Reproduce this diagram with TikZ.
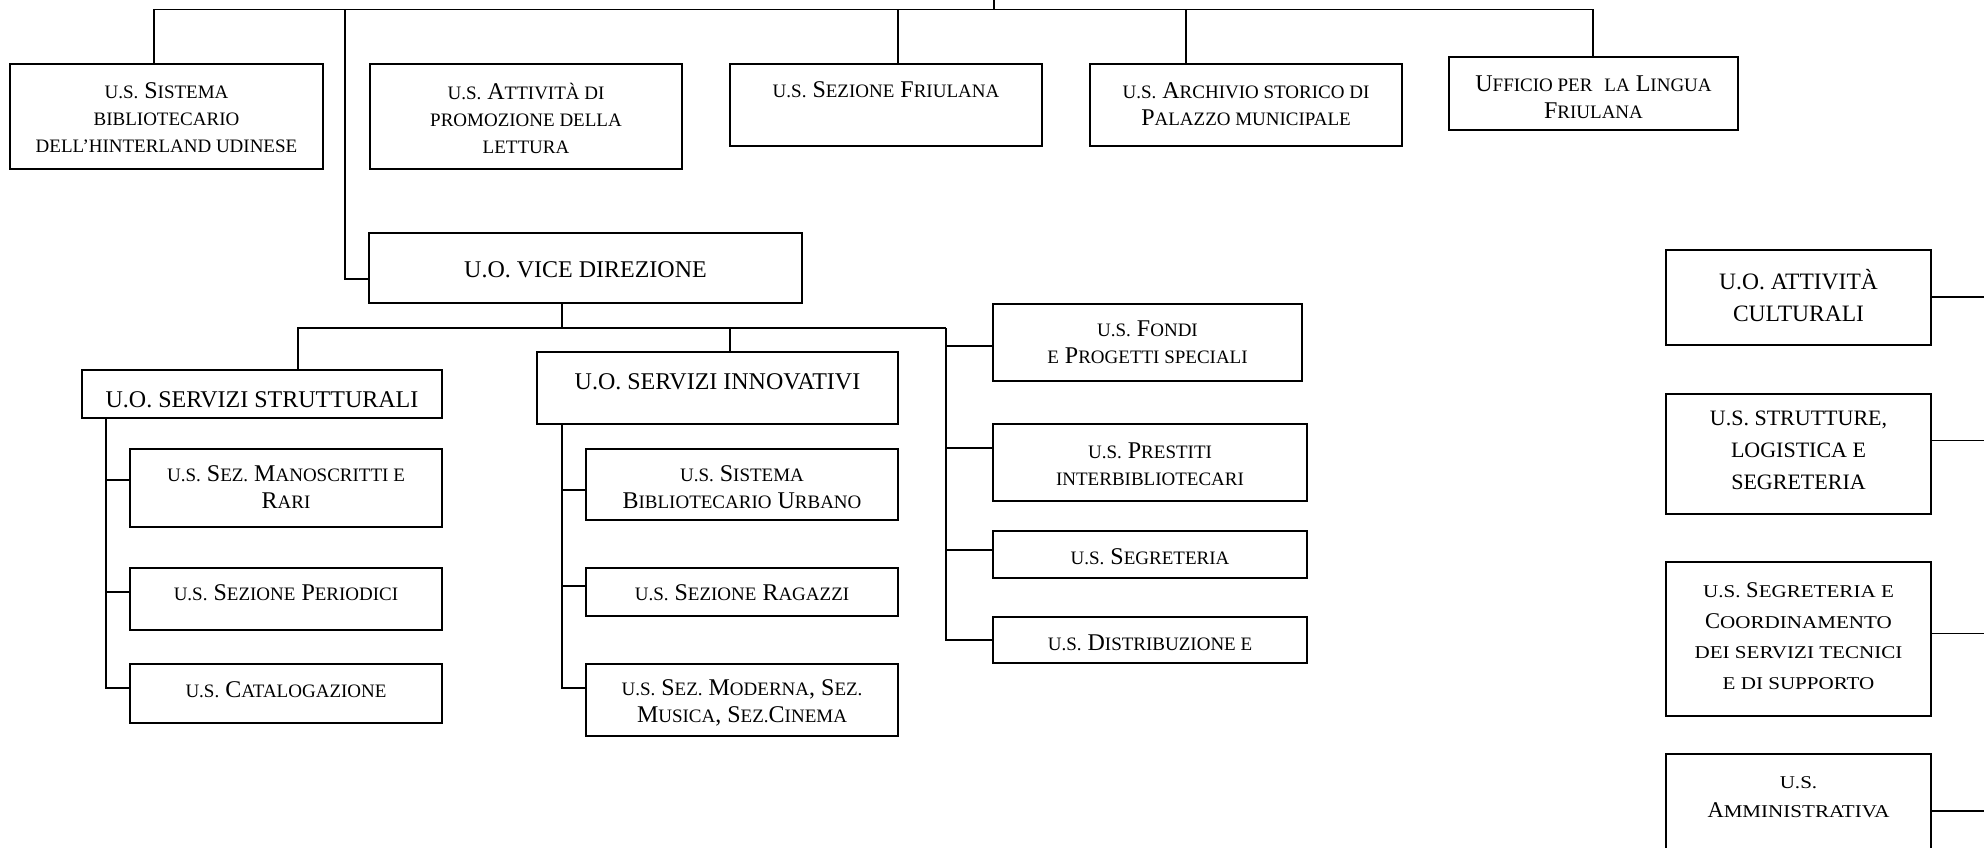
\documentclass[tikz,border=0pt]{standalone}
\usepackage{fontspec}
\setmainfont{Liberation Serif}
\newfontfamily\widesc{Liberation Serif}[FakeStretch=1.17]
\newcommand\sca[1]{{\fontsize{19}{27}\selectfont #1}}
\newcommand\scb[1]{{\widesc\fontsize{18}{30}\selectfont #1}}
\newcommand\bx[5]{\node[box,anchor=north west,minimum width={(#4)-(#2)},minimum height={(#5)-(#3)}] (#1) at (#2,#3) {};}
\newcommand\lb[4]{\node[lbl] (#1) at (#2.north |- 0,#3) {#4};}
\begin{document}
\begin{tikzpicture}[x=1pt,y=-1pt,
  box/.style={draw, line width=1.9pt, inner sep=0pt, outer sep=0pt},
  lbl/.style={inner sep=0pt, align=center, font=\fontsize{24}{27}\selectfont},
  rlbl/.style={inner sep=0pt, align=center},
  ln/.style={line width=1.9pt}]
\path[use as bounding box] (0,0) rectangle (1984,847);
\clip (0,0) rectangle (1984,847);
\fill[white] (0,0) rectangle (1984,847);
% boxes
\bx{A}{10}{64}{323}{169}
\bx{B}{370}{64}{682}{169}
\bx{C}{730}{64}{1042}{146}
\bx{D}{1090}{64}{1402}{146}
\bx{E}{1449}{57}{1738}{130}
\bx{VD}{369}{233}{802}{303}
\bx{SS}{82}{370}{442}{418}
\bx{SI}{537}{352}{898}{424}
\bx{MR}{130}{449}{442}{527}
\bx{PE}{130}{568}{442}{630}
\bx{CA}{130}{664}{442}{723}
\bx{BU}{586}{449}{898}{520}
\bx{RA}{586}{568}{898}{616}
\bx{MO}{586}{664}{898}{736}
\bx{FO}{993}{304}{1302}{381}
\bx{PR}{993}{424}{1307}{501}
\bx{SG}{993}{531}{1307}{578}
\bx{DI}{993}{617}{1307}{663}
\bx{AC}{1666}{250}{1931}{345}
\bx{ST}{1666}{394}{1931}{514}
\bx{SC}{1666}{562}{1931}{716}
\bx{AM}{1666}{754}{1931}{880}
% labels
\lb{At}{A}{118}{\sca{U.S.} S\sca{ISTEMA}\\ \sca{BIBLIOTECARIO}\\ \sca{DELL’HINTERLAND UDINESE}}
\lb{Bt}{B}{118}{\sca{U.S.} A\sca{TTIVITÀ DI}\\ \sca{PROMOZIONE DELLA}\\ \sca{LETTURA}}
\lb{Ct}{C}{90}{\sca{U.S.} S\sca{EZIONE} F\sca{RIULANA}}
\lb{Dt}{D}{104}{\sca{U.S.} A\sca{RCHIVIO STORICO DI}\\ P\sca{ALAZZO MUNICIPALE}}
\lb{Et}{E}{97.5}{U\sca{FFICIO PER}\ \ \sca{LA} L\sca{INGUA}\\ F\sca{RIULANA}}
\lb{VDt}{VD}{270}{U.O. VICE DIREZIONE}
\lb{SSt}{SS}{399.5}{U.O. SERVIZI STRUTTURALI}
\lb{SIt}{SI}{382}{U.O. SERVIZI INNOVATIVI}
\lb{MRt}{MR}{487}{\sca{U.S.} S\sca{EZ.} M\sca{ANOSCRITTI E}\\ R\sca{ARI}}
\lb{PEt}{PE}{593}{\sca{U.S.} S\sca{EZIONE} P\sca{ERIODICI}}
\lb{CAt}{CA}{690}{\sca{U.S.} C\sca{ATALOGAZIONE}}
\lb{BUt}{BU}{487}{\sca{U.S.} S\sca{ISTEMA}\\ B\sca{IBLIOTECARIO} U\sca{RBANO}}
\lb{RAt}{RA}{593}{\sca{U.S.} S\sca{EZIONE} R\sca{AGAZZI}}
\lb{MOt}{MO}{703}{\sca{U.S.} S\sca{EZ.} M\sca{ODERNA}, S\sca{EZ.}\\ M\sca{USICA}, S\sca{EZ.}C\sca{INEMA}}
\lb{FOt}{FO}{342.5}{\sca{U.S.} F\sca{ONDI}\\ \sca{E} P\sca{ROGETTI SPECIALI}}
\lb{PRt}{PR}{464}{\sca{U.S.} P\sca{RESTITI}\\ \sca{INTERBIBLIOTECARI}}
\lb{SGt}{SG}{556.5}{\sca{U.S.} S\sca{EGRETERIA}}
\lb{DIt}{DI}{642.5}{\sca{U.S.} D\sca{ISTRIBUZIONE E}}
\node[rlbl,font=\fontsize{23.5}{32}\selectfont] (ACt) at (AC.north |- 0,296) {U.O. ATTIVITÀ\\ CULTURALI};
\node[rlbl,font=\fontsize{22}{32}\selectfont] (STt) at (ST.north |- 0,450) {U.S. STRUTTURE,\\ LOGISTICA E\\ SEGRETERIA};
\node[rlbl,font=\fontsize{22.5}{30.5}\selectfont] (SCt) at (SC.north |- 0,636) {\scb{U.S.} S\scb{EGRETERIA E}\\ C\scb{OORDINAMENTO}\\ \scb{DEI SERVIZI TECNICI}\\ \scb{E DI SUPPORTO}};
\node[rlbl,font=\fontsize{22.5}{29}\selectfont] (AMt) at (AM.north |- 0,797) {\scb{U.S.}\\ A\scb{MMINISTRATIVA}};
% top bus
\coordinate (root) at (994,0);
\coordinate (bL) at (154,9.5);
\coordinate (bR) at (1593,9.5);
\coordinate (jC) at (898,9.5);
\coordinate (jD) at (1186,9.5);
\coordinate (jV) at (345,9.5);
\coordinate (kV) at (345,279);
\draw[ln] (root) -- (root |- bL);
\draw[ln] (A.north -| bL) -- (bL) -- (bR) -- (E.north -| bR);
\draw[ln] (jC) -- (C.north -| jC);
\draw[ln] (jD) -- (D.north -| jD);
\draw[ln] (jV) -- (kV) -- (kV -| VD.west);
% vice direzione
\coordinate (hV) at (562,328);
\coordinate (hL) at (298,328);
\coordinate (hR) at (946,328);
\coordinate (hI) at (730,328);
\draw[ln] (VD.south -| hV) -- (hV);
\draw[ln] (SS.north -| hL) -- (hL) -- (hR);
\draw[ln] (hI) -- (SI.north -| hI);
% right bus
\coordinate (b1) at (946,346);
\coordinate (b2) at (946,448);
\coordinate (b3) at (946,550);
\coordinate (b4) at (946,640);
\draw[ln] (hR) -- (b4) -- (b4 -| DI.west);
\draw[ln] (b1) -- (b1 -| FO.west);
\draw[ln] (b2) -- (b2 -| PR.west);
\draw[ln] (b3) -- (b3 -| SG.west);
% strutturali
\coordinate (s1) at (106,480);
\coordinate (s2) at (106,592);
\coordinate (s3) at (106,688);
\draw[ln] (SS.south -| s3) -- (s3) -- (s3 -| CA.west);
\draw[ln] (s1) -- (s1 -| MR.west);
\draw[ln] (s2) -- (s2 -| PE.west);
% innovativi
\coordinate (i1) at (562,490);
\coordinate (i2) at (562,586);
\coordinate (i3) at (562,688);
\draw[ln] (SI.south -| i3) -- (i3) -- (i3 -| MO.west);
\draw[ln] (i1) -- (i1 -| BU.west);
\draw[ln] (i2) -- (i2 -| RA.west);
% right column
\coordinate (r1) at (1990,297);
\coordinate (r2) at (1990,440.5);
\coordinate (r3) at (1990,633.5);
\coordinate (r4) at (1990,811);
\draw[ln] (r1 -| AC.east) -- (r1);
\draw[ln] (r2 -| ST.east) -- (r2);
\draw[ln] (r3 -| SC.east) -- (r3);
\draw[ln] (r4 -| AM.east) -- (r4);
\end{tikzpicture}
\end{document}
